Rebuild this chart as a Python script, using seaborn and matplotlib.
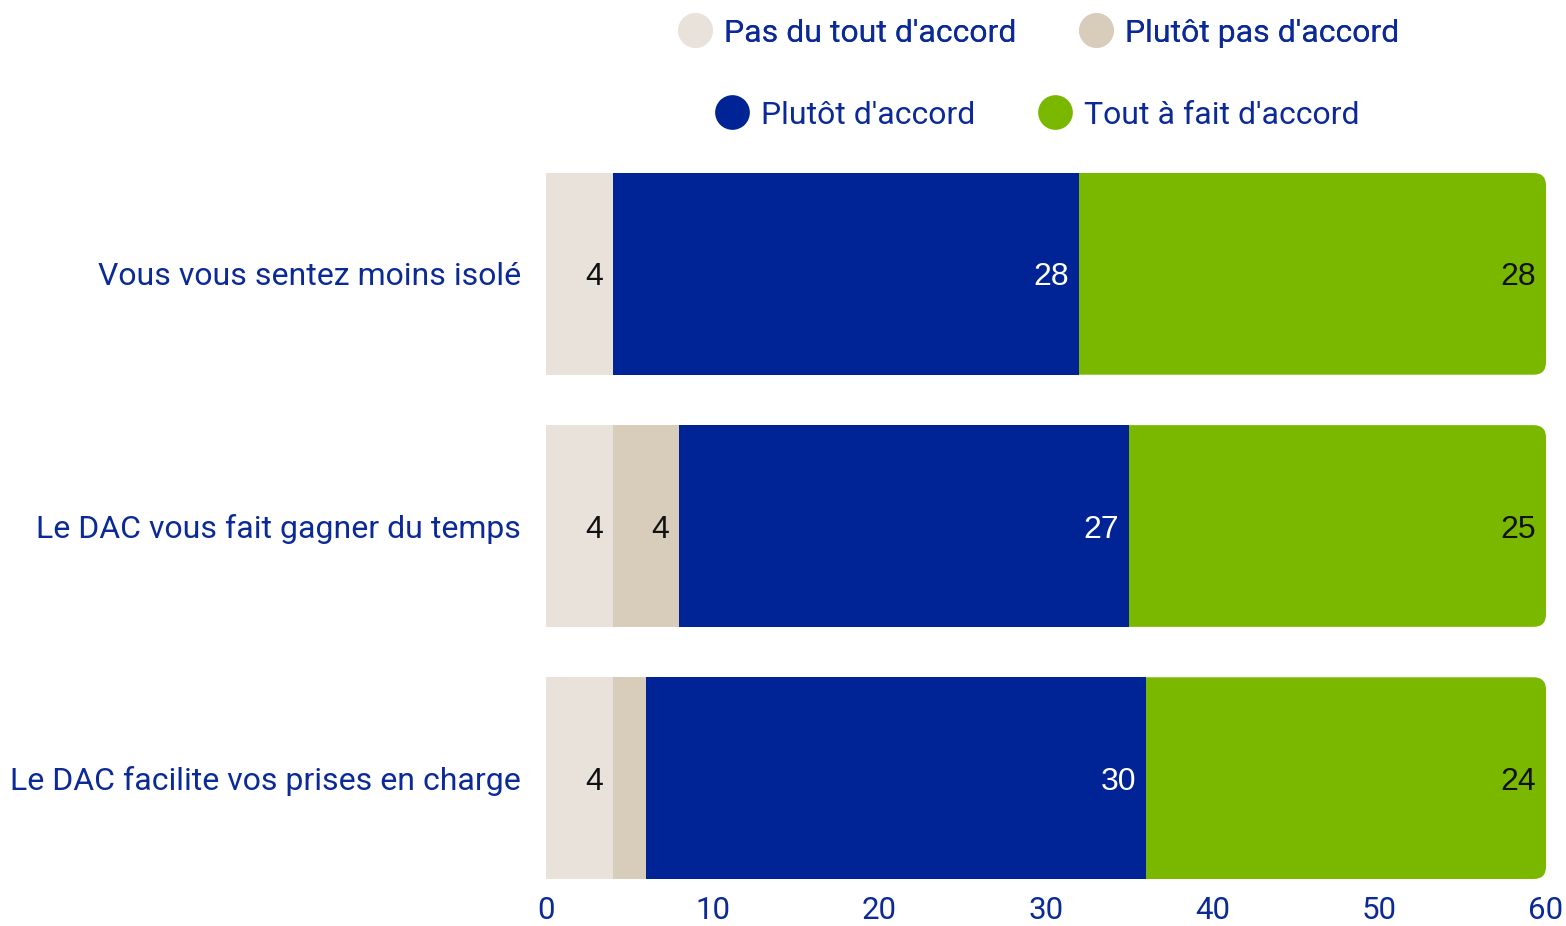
import matplotlib
matplotlib.use("Agg")
import matplotlib.pyplot as plt
from matplotlib.lines import Line2D
from matplotlib.patches import FancyBboxPatch
import numpy as np
import pandas as pd
import seaborn as sns

questions = [
    "Vous vous sentez moins isolé",
    "Le DAC vous fait gagner du temps",
    "Le DAC facilite vos prises en charge",
]
levels = [
    "Pas du tout d'accord",
    "Plutôt pas d'accord",
    "Plutôt d'accord",
    "Tout à fait d'accord",
]
pas_du_tout = [4, 4, 4]
plutot_pas = [0, 4, 2]
plutot = [28, 27, 30]
tout_a_fait = [28, 25, 24]

colors = ["#E8E2DB", "#D8CCBB", "#002496", "#7AB800"]
label_colors = ["#111111", "#111111", "#FFFFFF", "#111111"]
text_blue = "#0B2A97"
x_ticks = [0, 10, 20, 30, 40, 50, 60]

sns.set_theme(style="white")
plt.rcParams["font.family"] = ["Roboto", "DejaVu Sans"]

values = np.array([pas_du_tout, plutot_pas, plutot, tout_a_fait], dtype=float)
cum = np.cumsum(values, axis=0)

rows = []
for li, lev in enumerate(levels):
    for qi, q in enumerate(questions):
        rows.append({"question": q, "level": lev, "cum": cum[li, qi]})
df = pd.DataFrame(rows)

fig = plt.figure(figsize=(15.66, 9.26), dpi=100)
ax = fig.add_axes([546 / 1566, 1 - 879 / 926, 1000 / 1566, (879 - 173) / 926])

# Overlapping cumulative bars: widest (total) drawn first, then each shorter stack on top
draw_order = levels[::-1]
sns.barplot(
    data=df, y="question", x="cum", hue="level", hue_order=draw_order,
    palette=dict(zip(levels, colors)), dodge=False, orient="h",
    order=questions, width=0.8, linewidth=0, edgecolor="none",
    saturation=1, legend=False, ax=ax,
)

ax.set_xlim(0, 60)
ax.set_ylim(2.4, -0.4)

# Rounded right end of the full stack
xpx = 1000 / 60.0
ypx = (879 - 173) / 2.8
for bar in ax.containers[0]:
    x0, y0 = bar.get_x(), bar.get_y()
    w, h = bar.get_width(), bar.get_height()
    clip = FancyBboxPatch((x0, y0), w, h,
                          boxstyle="round,pad=0,rounding_size=0.75",
                          mutation_aspect=xpx / ypx,
                          transform=ax.transData, facecolor="none", edgecolor="none")
    ax.add_patch(clip)
    clip.set_visible(False)
    bar.set_clip_path(clip)

# Value labels at the inner right end of each segment
for li in range(len(levels)):
    for qi in range(len(questions)):
        v = values[li, qi]
        if v >= 4:
            ax.text(cum[li, qi] - 0.6, qi, f"{int(v)}", ha="right", va="center_baseline",
                    fontsize=23, color=label_colors[li],
                    family=["Liberation Sans", "DejaVu Sans"])

for s in ax.spines.values():
    s.set_visible(False)
ax.set_xticks(x_ticks)
ax.set_xticklabels([str(t) for t in x_ticks])
ax.tick_params(axis="x", length=0, pad=12, labelsize=22.5, labelcolor=text_blue)
ax.tick_params(axis="y", length=0, pad=18, labelsize=23, labelcolor=text_blue)
for t in ax.get_yticklabels():
    t.set_verticalalignment("center_baseline")
ax.set_xlabel("")
ax.set_ylabel("")
ax.grid(False)

def handles(idx):
    return [Line2D([], [], marker="o", linestyle="none", markersize=25,
                   markerfacecolor=colors[i], markeredgecolor="none", label=levels[i])
            for i in idx]

leg_kw = dict(frameon=False, ncol=2, fontsize=23, labelcolor=text_blue,
              handletextpad=0.4, columnspacing=2.0, handlelength=1.0, loc="center")
leg1 = fig.legend(handles=handles([0, 1]), bbox_to_anchor=(1039 / 1566, 1 - 33 / 926), **leg_kw)
fig.add_artist(leg1)
fig.legend(handles=handles([2, 3]), bbox_to_anchor=(1038 / 1566, 1 - 115 / 926), **leg_kw)

fig.savefig("out.png", dpi=100, facecolor="white")
